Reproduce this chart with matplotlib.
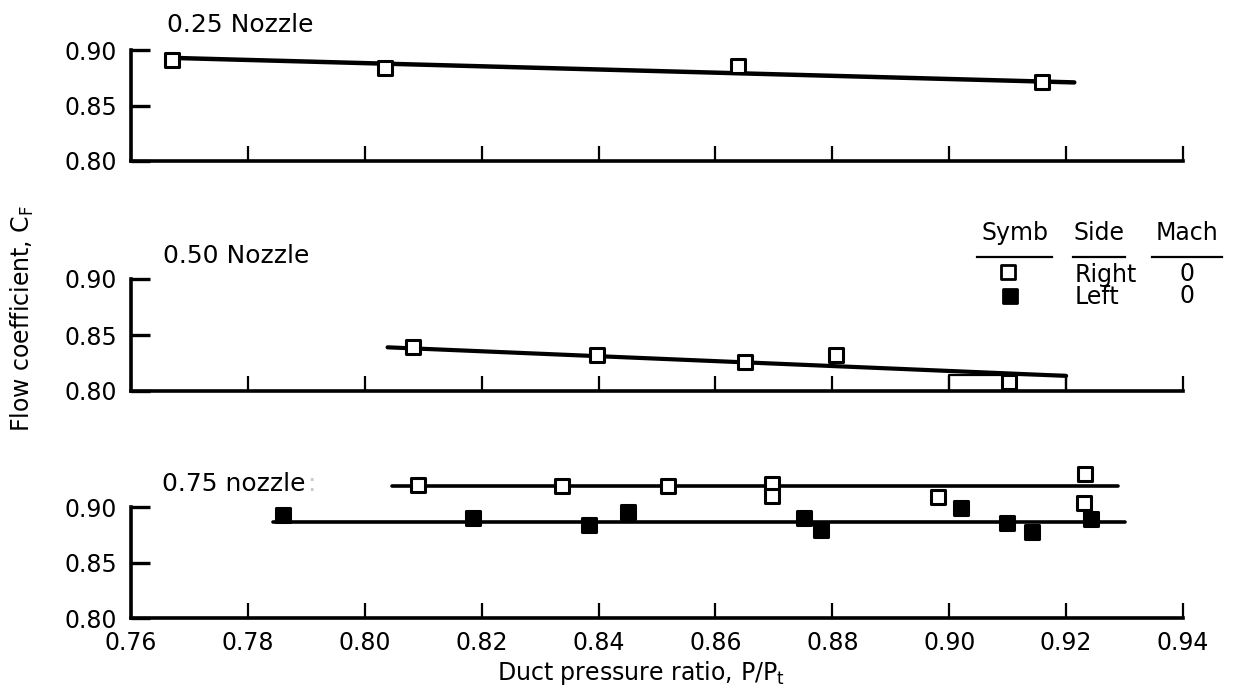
import matplotlib
matplotlib.use("Agg")
import matplotlib.pyplot as plt
from matplotlib.markers import MarkerStyle

plt.rcParams["font.family"] = ["DejaVu Sans"]
plt.rcParams["mathtext.fontset"] = "dejavusans"

# ---- data -------------------------------------------------------------
x_ticks = [0.76, 0.78, 0.80, 0.82, 0.84, 0.86, 0.88, 0.90, 0.92, 0.94]
x_tick_labels = ["0.76", "0.78", "0.80", "0.82", "0.84", "0.86", "0.88", "0.90", "0.92", "0.94"]
y_ticks = [0.80, 0.85, 0.90]
y_tick_labels = ["0.80", "0.85", "0.90"]

panel_titles = ["0.25 Nozzle", "0.50 Nozzle", "0.75 nozzle"]

# 0.25 nozzle, right side
n25_right_x = [0.7670, 0.8034, 0.8639, 0.9159]
n25_right_y = [0.891, 0.884, 0.886, 0.871]
n25_fit_x = [0.7670, 0.9214]
n25_fit_y = [0.8929, 0.8708]

# 0.50 nozzle, right side
n50_right_x = [0.8082, 0.8398, 0.8650, 0.8807, 0.9103]
n50_right_y = [0.839, 0.832, 0.8255, 0.832, 0.808]
n50_fit_x = [0.8039, 0.9200]
n50_fit_y = [0.839, 0.8135]

# 0.75 nozzle, right side (open) and left side (filled)
n75_right_x = [0.8091, 0.8338, 0.8518, 0.8696, 0.8696, 0.8981, 0.9232, 0.9231]
n75_right_y = [0.920, 0.919, 0.9186, 0.921, 0.910, 0.9088, 0.9296, 0.9039]
n75_left_x = [0.7860, 0.8185, 0.8383, 0.8451, 0.8752, 0.8781, 0.9021, 0.9099, 0.9142, 0.9243]
n75_left_y = [0.8924, 0.890, 0.8835, 0.8957, 0.8897, 0.8791, 0.8989, 0.8856, 0.8775, 0.8888]
n75_right_fit_x = [0.8046, 0.9289]
n75_right_fit_y = [0.9192, 0.9192]
n75_left_fit_x = [0.7843, 0.9300]
n75_left_fit_y = [0.8866, 0.8866]

legend_headers = ["Symb", "Side", "Mach"]
legend_sides = ["Right", "Left"]
legend_mach = ["0", "0"]

# ---- figure -----------------------------------------------------------
W, H = 1242, 695
fig = plt.figure(figsize=(W / 100, H / 100), dpi=100)
fig.patch.set_facecolor("white")

FS = 17
left, right = 131 / W, 1183 / W
panel_px = [(50, 161), (279, 391), (507, 618)]   # (top, bottom) in pixels

open_sq = MarkerStyle("s", fillstyle="full", joinstyle="round")


def style_axes(ax, show_xlabels):
    ax.set_xlim(0.76, 0.94)
    ax.set_ylim(0.80, 0.90)
    for s in ("top", "right"):
        ax.spines[s].set_visible(False)
    for s in ("left", "bottom"):
        ax.spines[s].set_linewidth(2.6)
        ax.spines[s].set_capstyle("projecting")
    ax.set_xticks(x_ticks)
    ax.set_yticks(y_ticks)
    ax.set_yticklabels(y_tick_labels, fontsize=FS)
    if show_xlabels:
        ax.set_xticklabels(x_tick_labels, fontsize=FS)
    else:
        ax.set_xticklabels([])
    ax.tick_params(axis="x", direction="in", length=11, width=1.6, pad=9)
    ax.tick_params(axis="y", direction="in", length=14, width=2.4, pad=10)
    ax.patch.set_alpha(0)


axes = []
for i, (t, b) in enumerate(panel_px):
    ax = fig.add_axes([left, 1 - b / H, right - left, (b - t) / H])
    style_axes(ax, show_xlabels=(i == 2))
    axes.append(ax)


def fit(ax, xs, ys, lw):
    ax.plot(xs, ys, color="black", lw=lw, solid_capstyle="round", clip_on=False, zorder=3)


def pts(ax, xs, ys, filled, ms=10.5):
    ax.plot(xs, ys, linestyle="none", marker=open_sq, markersize=ms,
            markerfacecolor="black" if filled else "white",
            markeredgecolor="black", markeredgewidth=2.2,
            clip_on=False, zorder=4)


# 0.25 nozzle
ax = axes[0]
fit(ax, n25_fit_x, n25_fit_y, 3.2)
pts(ax, n25_right_x, n25_right_y, False)

# 0.50 nozzle
ax = axes[1]
fit(ax, n50_fit_x, n50_fit_y, 3.0)
ax.plot([0.90, 0.90, 0.92, 0.92], [0.80, 0.814, 0.814, 0.80], color="black",
        lw=1.6, clip_on=False, zorder=2)
pts(ax, n50_right_x, n50_right_y, False)

# 0.75 nozzle
ax = axes[2]
fit(ax, n75_right_fit_x, n75_right_fit_y, 2.6)
fit(ax, n75_left_fit_x, n75_left_fit_y, 2.6)
pts(ax, n75_right_x, n75_right_y, False)
pts(ax, n75_left_x, n75_left_y, True)

# panel titles
title_px = [(167, 25), (163, 256), (162, 484)]
for (px, py), txt in zip(title_px, panel_titles):
    fig.text(px / W, 1 - py / H, txt, fontsize=18, ha="left", va="center")
fig.text(307 / W, 1 - 484 / H, ":", fontsize=18, ha="left", va="center", color="#c8c8c8")

# axis labels
fig.text(22 / W, 1 - 318 / H, r"Flow coefficient, $\mathregular{C_F}$",
         rotation=90, fontsize=FS, ha="center", va="center")
fig.text(641 / W, 1 - 673 / H, r"Duct pressure ratio, P/$\mathregular{P_t}$",
         fontsize=FS, ha="center", va="center")

# legend table
lg = fig.add_axes([0, 0, 1, 1])
lg.set_xlim(0, W)
lg.set_ylim(H, 0)
lg.axis("off")
col_x = [1015, 1099, 1187]
ul_span = [(977, 1052), (1073, 1125), (1152, 1222)]
for cx, (u0, u1), head in zip(col_x, ul_span, legend_headers):
    lg.text(cx, 240, head, fontsize=FS, ha="center", va="baseline")
    lg.plot([u0, u1], [257, 257], color="black", lw=1.6)
row_y = [282, 304]
lg.plot([1008], [272], linestyle="none", marker=open_sq, markersize=9.5,
        markerfacecolor="white", markeredgecolor="black", markeredgewidth=2.0)
lg.plot([1010], [296], linestyle="none", marker=open_sq, markersize=10,
        markerfacecolor="black", markeredgecolor="black", markeredgewidth=2.0)
for ry, side, mach in zip(row_y, legend_sides, legend_mach):
    lg.text(1075, ry, side, fontsize=FS, ha="left", va="baseline")
    lg.text(1187, ry - 1, mach, fontsize=FS, ha="center", va="baseline")

fig.savefig("out.png", dpi=100, facecolor="white")
